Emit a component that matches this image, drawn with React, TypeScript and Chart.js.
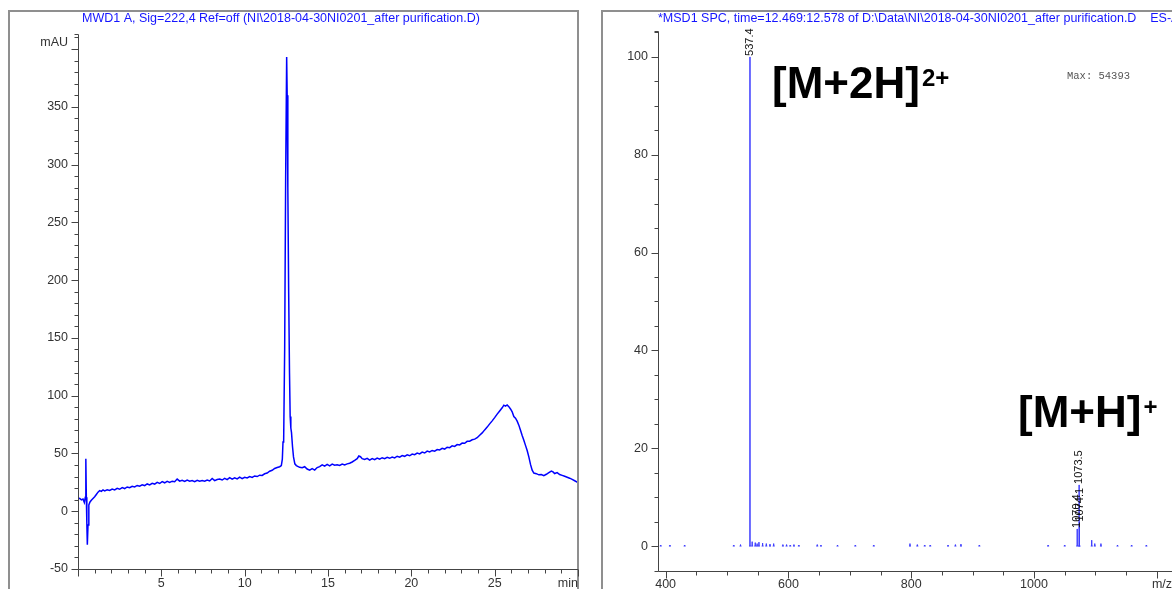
import React, { useEffect, useRef } from "react";
import { Chart, registerables } from "chart.js";

Chart.register(...registerables);

const FONT = "'Liberation Sans', Arial, Helvetica, sans-serif";
const MONO = "'Liberation Mono', 'Courier New', monospace";
const FRAME = "#8f8f8f";
const AXIS = "#444444";
const LABEL = "#333333";
const TITLE_BLUE = "#1515ff";

// ---------------- HPLC chromatogram (left) ----------------
const lcTitle = "MWD1 A, Sig=222,4 Ref=off (NI\\2018-04-30NI0201_after purification.D)";
const lcTime = [
  0.0, 0.1, 0.2, 0.3, 0.38, 0.44, 0.47, 0.5, 0.53, 0.56,
  0.6, 0.65, 0.72, 0.8, 0.9, 1.0, 1.1, 1.2, 1.3, 1.4,
  1.5, 1.6, 1.75, 1.9, 2.05, 2.2, 2.35, 2.5, 2.65, 2.8,
  2.95, 3.1, 3.25, 3.4, 3.55, 3.7, 3.85, 4.0, 4.15, 4.3,
  4.45, 4.6, 4.75, 4.9, 5.05, 5.2, 5.35, 5.5, 5.65, 5.8,
  5.95, 6.1, 6.25, 6.4, 6.55, 6.7, 6.85, 7.0, 7.15, 7.3,
  7.45, 7.6, 7.75, 7.9, 8.05, 8.2, 8.35, 8.5, 8.65, 8.8,
  8.95, 9.1, 9.25, 9.4, 9.55, 9.7, 9.85, 10.0, 10.15, 10.3,
  10.45, 10.6, 10.75, 10.9, 11.05, 11.2, 11.35, 11.5, 11.65, 11.8,
  11.95, 12.1, 12.2, 12.26, 12.3, 12.34, 12.4, 12.46, 12.52, 12.55,
  12.59, 12.64, 12.69, 12.73, 12.77, 12.81, 12.87, 12.93, 13.01, 13.1,
  13.3, 13.45, 13.6, 13.75, 13.9, 14.05, 14.2, 14.35, 14.5, 14.65,
  14.8, 14.95, 15.1, 15.25, 15.4, 15.55, 15.7, 15.85, 16.0, 16.15,
  16.3, 16.45, 16.6, 16.75, 16.85, 16.95, 17.05, 17.2, 17.35, 17.5,
  17.65, 17.8, 17.95, 18.1, 18.25, 18.4, 18.55, 18.7, 18.85, 19.0,
  19.15, 19.3, 19.45, 19.6, 19.75, 19.9, 20.05, 20.2, 20.35, 20.5,
  20.65, 20.8, 20.95, 21.1, 21.25, 21.4, 21.55, 21.7, 21.85, 22.0,
  22.15, 22.3, 22.45, 22.6, 22.75, 22.9, 23.05, 23.2, 23.35, 23.5,
  23.65, 23.8, 23.95, 24.1, 24.25, 24.4, 24.55, 24.7, 24.85, 25.0,
  25.15, 25.3, 25.45, 25.55, 25.65, 25.75, 25.85, 25.95, 26.05, 26.15,
  26.25, 26.35, 26.45, 26.55, 26.65, 26.75, 26.85, 26.95, 27.05, 27.15,
  27.25, 27.35, 27.5, 27.65, 27.8, 27.95, 28.1, 28.25, 28.4, 28.5,
  28.6, 28.75, 28.9, 29.05, 29.2, 29.35, 29.5, 29.65, 29.8, 29.95,
  30.0,
];
const lcSignal = [
  10.5, 11.2, 9.8, 10.6, 7.5, 12.0, 45.5, 12.0, -10.0, -29.0,
  -12.0, 5.5, 8.0, 9.5, 11.0, 12.5, 14.5, 16.5, 17.8, 17.2,
  18.4, 17.6, 18.6, 18.0, 19.2, 18.5, 19.8, 19.0, 20.4, 19.6,
  21.0, 20.3, 21.5, 21.0, 22.3, 21.6, 22.8, 22.2, 23.6, 22.8,
  24.2, 23.5, 25.0, 24.0, 25.6, 24.6, 25.8, 25.0, 26.0, 25.5,
  27.8, 26.0, 26.8, 25.8, 27.0, 26.0, 26.6, 25.6, 26.8, 25.9,
  26.5, 26.0, 27.0, 26.2, 28.3, 26.5, 27.5, 27.9, 27.0, 28.4,
  27.3, 29.0, 27.8, 28.9, 28.0, 29.5, 28.2, 29.4, 28.8, 30.0,
  29.2, 30.5, 30.0, 31.2, 31.0, 32.4, 33.0, 34.6, 35.4, 37.0,
  37.8, 38.5, 39.5, 45.0, 60.0, 62.0, 140.0, 290.0, 393.0, 360.0,
  280.0, 190.0, 120.0, 82.0, 72.0, 68.0, 56.0, 47.0, 41.0, 39.5,
  38.0, 37.6, 38.5, 36.5, 35.5, 36.8, 35.6, 37.8, 38.6, 40.2,
  39.0, 40.5, 39.3, 40.8, 39.8, 40.2, 39.6, 40.8, 40.0, 41.0,
  41.5, 42.6, 44.0, 45.5, 47.8, 47.2, 45.5, 44.8, 45.8, 44.2,
  45.6, 44.6, 46.0, 45.0, 46.3, 45.5, 46.6, 45.8, 46.9, 46.2,
  47.6, 46.8, 48.2, 47.5, 48.8, 48.0, 49.5, 48.9, 50.3, 49.6,
  51.2, 50.4, 52.0, 51.3, 52.6, 52.0, 53.4, 53.0, 54.4, 53.8,
  55.4, 55.0, 56.6, 56.1, 57.7, 57.4, 59.0, 58.8, 60.5, 60.6,
  61.8, 62.4, 63.6, 65.8, 67.8, 70.4, 72.8, 75.6, 78.2, 81.0,
  84.0, 86.8, 89.5, 91.8, 91.0, 92.0, 90.5, 88.5, 86.0, 82.0,
  80.5, 78.0, 74.5, 70.0, 65.5, 61.5, 57.0, 52.5, 47.0, 40.5,
  35.5, 33.0, 32.5, 31.5, 31.8, 30.8, 32.0, 33.5, 34.8, 34.0,
  32.6, 33.4, 31.8, 31.0, 30.2, 29.4, 28.6, 27.6, 26.4, 25.2,
  24.5,
];
const lcXRange = [0, 30];
const lcYRange = [-50, 413];
const lcXSteps = [5, 1]; // major, minor
const lcYSteps = [50, 10];
const lcXUnit = "min";
const lcYUnit = "mAU";
const lcYUnitValue = 406;

// ---------------- Mass spectrum (right) ----------------
const msTitle =
  "*MSD1 SPC, time=12.469:12.578 of D:\\Data\\NI\\2018-04-30NI0201_after purification.D    ES-API, Pos, Scan, Frag: 70";
const msMz = [
  392, 407, 431, 511, 522, 537.4, 541, 546, 549, 552,
  558, 564, 570, 576, 591, 597, 603, 609, 617, 647,
  653, 680, 709, 739, 798, 810, 822, 831, 860, 872,
  881, 911, 1023, 1050, 1070.4, 1073.5, 1074.1, 1094, 1099, 1109,
  1136, 1159, 1183,
];
const msIntensity = [
  0.2, 0.2, 0.2, 0.2, 0.3, 100, 0.9, 0.7, 0.5, 0.8,
  0.6, 0.5, 0.4, 0.5, 0.3, 0.3, 0.2, 0.3, 0.2, 0.3,
  0.2, 0.2, 0.2, 0.2, 0.5, 0.3, 0.2, 0.2, 0.2, 0.3,
  0.4, 0.2, 0.2, 0.2, 3.5, 12.5, 4.8, 1.2, 0.5, 0.5,
  0.2, 0.2, 0.2,
];
const msLabelMz = [537.4, 1070.4, 1074.1, 1073.5];
const msLabelText = ["537.4", "1070.4", "1074.1", "1073.5"];
const msXRange = [387.6, 1250];
const msYRange = [-5.1, 105.3];
const msXSteps = [200, 50];
const msYSteps = [20, 5];
const msXUnit = "m/z";
const msAnnText = ["[M+2H]", "[M+H]"];
const msAnnSup = ["2+", "+"];
const msAnnMz = [573.3, 974];
const msAnnRel = [91.6, 24.3];
const msMaxText = "Max: 54393";
const msMaxAt = [1053.7, 96.1];

type Spec = {
  xSteps: number[];
  ySteps: number[];
  title: string;
  titleX: number;
  frameRight: boolean;
  xUnit: string;
  xUnitAlign: "left" | "right";
  xUnitValue: number;
  xLabelPad: number;
  yUnit?: string;
  yUnitValue?: number;
};

function isMultiple(v: number, step: number) {
  return Math.abs(v / step - Math.round(v / step)) < 1e-6;
}

function decorPlugin(spec: Spec) {
  return {
    id: "decor",
    afterDraw(chart: any) {
      const { ctx, chartArea: a } = chart;
      const xs = chart.scales.x;
      const ys = chart.scales.y;
      const W = chart.width;
      const H = chart.height;
      ctx.save();
      // frame
      ctx.fillStyle = FRAME;
      ctx.fillRect(0, 0, 2, H);
      ctx.fillRect(0, 0, W, 2);
      if (spec.frameRight) ctx.fillRect(W - 2, 0, 2, H);
      // axes
      ctx.strokeStyle = AXIS;
      ctx.lineWidth = 1;
      const ax = Math.round(a.left) + 0.5;
      const ay = Math.round(a.bottom) + 0.5;
      const at = Math.round(a.top) + 0.5;
      ctx.beginPath();
      ctx.moveTo(ax, at);
      ctx.lineTo(ax, ay);
      ctx.lineTo(a.right, ay);
      ctx.stroke();
      ctx.beginPath();
      ctx.moveTo(ax - 4, at);
      ctx.lineTo(ax, at);
      ctx.stroke();
      // y ticks
      const [yMaj, yMin] = spec.ySteps;
      for (let v = Math.ceil(ys.min / yMin - 1e-9) * yMin; v <= ys.max + 1e-9; v += yMin) {
        const py = Math.round(ys.getPixelForValue(v)) + 0.5;
        const len = isMultiple(v, yMaj) ? 7 : 4;
        ctx.beginPath();
        ctx.moveTo(ax - len, py);
        ctx.lineTo(ax, py);
        ctx.stroke();
      }
      // x ticks
      const [xMaj, xMin] = spec.xSteps;
      for (let v = Math.ceil(xs.min / xMin - 1e-9) * xMin; v <= xs.max + 1e-9; v += xMin) {
        const px = Math.round(xs.getPixelForValue(v)) + 0.5;
        const len = isMultiple(v, xMaj) ? 7 : 4;
        ctx.beginPath();
        ctx.moveTo(px, ay);
        ctx.lineTo(px, ay + len);
        ctx.stroke();
      }
      // title
      ctx.fillStyle = TITLE_BLUE;
      ctx.font = `12.5px ${FONT}`;
      ctx.textAlign = "left";
      ctx.textBaseline = "middle";
      ctx.fillText(spec.title, spec.titleX, 9);
      // unit labels
      ctx.fillStyle = LABEL;
      ctx.textAlign = spec.xUnitAlign;
      ctx.fillText(spec.xUnit, xs.getPixelForValue(spec.xUnitValue), a.bottom + spec.xLabelPad + 7.5);
      if (spec.yUnit && spec.yUnitValue !== undefined) {
        ctx.textAlign = "right";
        ctx.fillText(spec.yUnit, a.left - 10, ys.getPixelForValue(spec.yUnitValue));
      }
      ctx.restore();
    },
  };
}

const msExtrasPlugin = {
  id: "msExtras",
  afterDraw(chart: any) {
    const { ctx } = chart;
    const xs = chart.scales.x;
    const ys = chart.scales.y;
    ctx.save();
    // rotated peak labels
    ctx.fillStyle = "#111";
    ctx.font = `11px ${FONT}`;
    ctx.textAlign = "left";
    ctx.textBaseline = "middle";
    for (let i = 0; i < msLabelMz.length; i++) {
      const idx = msMz.indexOf(msLabelMz[i]);
      const px = xs.getPixelForValue(msLabelMz[i]);
      const py = ys.getPixelForValue(msIntensity[idx]);
      ctx.save();
      ctx.translate(px, py - 1);
      ctx.rotate(-Math.PI / 2);
      ctx.fillText(msLabelText[i], 0, 0);
      ctx.restore();
    }
    // ion annotations
    ctx.fillStyle = "#000";
    ctx.textBaseline = "alphabetic";
    for (let i = 0; i < msAnnText.length; i++) {
      const bx = xs.getPixelForValue(msAnnMz[i]);
      const by = ys.getPixelForValue(msAnnRel[i]);
      ctx.font = `bold 44px ${FONT}`;
      ctx.fillText(msAnnText[i], bx, by);
      const w = ctx.measureText(msAnnText[i]).width;
      ctx.font = `bold 24px ${FONT}`;
      ctx.fillText(msAnnSup[i], bx + w + 2, by - 12);
    }
    // max intensity
    ctx.fillStyle = "#555";
    ctx.font = `10.5px ${MONO}`;
    ctx.textBaseline = "middle";
    ctx.fillText(msMaxText, xs.getPixelForValue(msMaxAt[0]), ys.getPixelForValue(msMaxAt[1]));
    ctx.restore();
  },
};

const tickFont = { family: FONT, size: 12.5 };

function noSidePadding(s: any) {
  s.paddingLeft = 0;
  s.paddingRight = 0;
}

export default function App() {
  const lcRef = useRef<HTMLCanvasElement>(null);
  const msRef = useRef<HTMLCanvasElement>(null);

  useEffect(() => {
    const LH = 600;
    const lcPoints = lcTime.map((t, i) => ({ x: t, y: lcSignal[i] }));
    const lc = new Chart(lcRef.current as HTMLCanvasElement, {
      type: "line",
      data: {
        datasets: [
          {
            data: lcPoints,
            borderColor: "#0000ff",
            borderWidth: 1.5,
            pointRadius: 0,
            tension: 0,
          },
        ],
      },
      options: {
        responsive: false,
        animation: false,
        devicePixelRatio: 1,
        events: [],
        layout: { padding: { left: 0, top: 24, right: 1, bottom: 0 } },
        plugins: { legend: { display: false }, tooltip: { enabled: false } },
        scales: {
          x: {
            type: "linear",
            min: lcXRange[0],
            max: lcXRange[1],
            grid: { display: false, drawTicks: false },
            border: { display: false },
            ticks: {
              stepSize: lcXSteps[0],
              includeBounds: false,
              autoSkip: false,
              maxRotation: 0,
              padding: 7,
              color: LABEL,
              font: tickFont,
              callback: (v: any) => (v === lcXRange[0] || v === lcXRange[1] ? "" : String(v)),
            },
            afterFit: (s: any) => {
              s.height = LH - 559;
              noSidePadding(s);
            },
          },
          y: {
            type: "linear",
            min: lcYRange[0],
            max: lcYRange[1],
            grid: { display: false, drawTicks: false },
            border: { display: false },
            ticks: {
              stepSize: lcYSteps[0],
              includeBounds: false,
              autoSkip: false,
              padding: 10,
              color: LABEL,
              font: tickFont,
              callback: (v: any) => (v >= 400 ? "" : String(v)),
            },
            afterFit: (s: any) => {
              s.width = 70;
            },
          },
        },
      },
      plugins: [
        decorPlugin({
          xSteps: lcXSteps,
          ySteps: lcYSteps,
          title: lcTitle,
          titleX: 74,
          frameRight: true,
          xUnit: lcXUnit,
          xUnitAlign: "right",
          xUnitValue: lcXRange[1],
          xLabelPad: 7,
          yUnit: lcYUnit,
          yUnitValue: lcYUnitValue,
        }),
      ],
    } as any);

    const MW = 640, MH = 600;
    const half = 1.6;
    const msPoints: any[] = [];
    msMz.forEach((mz, i) => {
      msPoints.push({ x: mz - half, y: 0 });
      msPoints.push({ x: mz, y: 0 });
      msPoints.push({ x: mz, y: msIntensity[i] });
      msPoints.push({ x: mz, y: 0 });
      msPoints.push({ x: mz + half, y: 0 });
      msPoints.push({ x: mz + half, y: null });
    });
    const ms = new Chart(msRef.current as HTMLCanvasElement, {
      type: "line",
      data: {
        datasets: [
          {
            data: msPoints,
            borderColor: "#3c3cff",
            borderWidth: 1,
            pointRadius: 0,
            tension: 0,
            spanGaps: false,
          },
        ],
      },
      options: {
        responsive: false,
        animation: false,
        devicePixelRatio: 1,
        events: [],
        layout: { padding: { left: 0, top: 21, right: MW - 586.5, bottom: 0 } },
        plugins: { legend: { display: false }, tooltip: { enabled: false } },
        scales: {
          x: {
            type: "linear",
            min: msXRange[0],
            max: msXRange[1],
            grid: { display: false, drawTicks: false },
            border: { display: false },
            ticks: {
              stepSize: msXSteps[0],
              includeBounds: false,
              autoSkip: false,
              maxRotation: 0,
              padding: 6,
              color: LABEL,
              font: tickFont,
              callback: (v: any) => (v >= 1200 ? "" : String(v)),
            },
            afterFit: (s: any) => {
              s.height = MH - 561;
              noSidePadding(s);
            },
          },
          y: {
            type: "linear",
            min: msYRange[0],
            max: msYRange[1],
            grid: { display: false, drawTicks: false },
            border: { display: false },
            ticks: {
              stepSize: msYSteps[0],
              includeBounds: false,
              autoSkip: false,
              padding: 10,
              color: LABEL,
              font: tickFont,
              callback: (v: any) => String(v),
            },
            afterFit: (s: any) => {
              s.width = 57;
            },
          },
        },
      },
      plugins: [
        decorPlugin({
          xSteps: msXSteps,
          ySteps: msYSteps,
          title: msTitle,
          titleX: 57,
          frameRight: false,
          xUnit: msXUnit,
          xUnitAlign: "left",
          xUnitValue: 1192,
          xLabelPad: 6,
        }),
        msExtrasPlugin,
      ],
    } as any);

    return () => {
      lc.destroy();
      ms.destroy();
    };
  }, []);

  return (
    <div
      style={{
        position: "fixed",
        left: 0,
        top: 0,
        width: 1172,
        height: 589,
        overflow: "hidden",
        background: "#ffffff",
      }}
    >
      <canvas
        ref={lcRef}
        width={571}
        height={600}
        style={{ position: "absolute", left: 8, top: 10, width: 571, height: 600 }}
      />
      <canvas
        ref={msRef}
        width={640}
        height={600}
        style={{ position: "absolute", left: 601, top: 10, width: 640, height: 600 }}
      />
    </div>
  );
}
